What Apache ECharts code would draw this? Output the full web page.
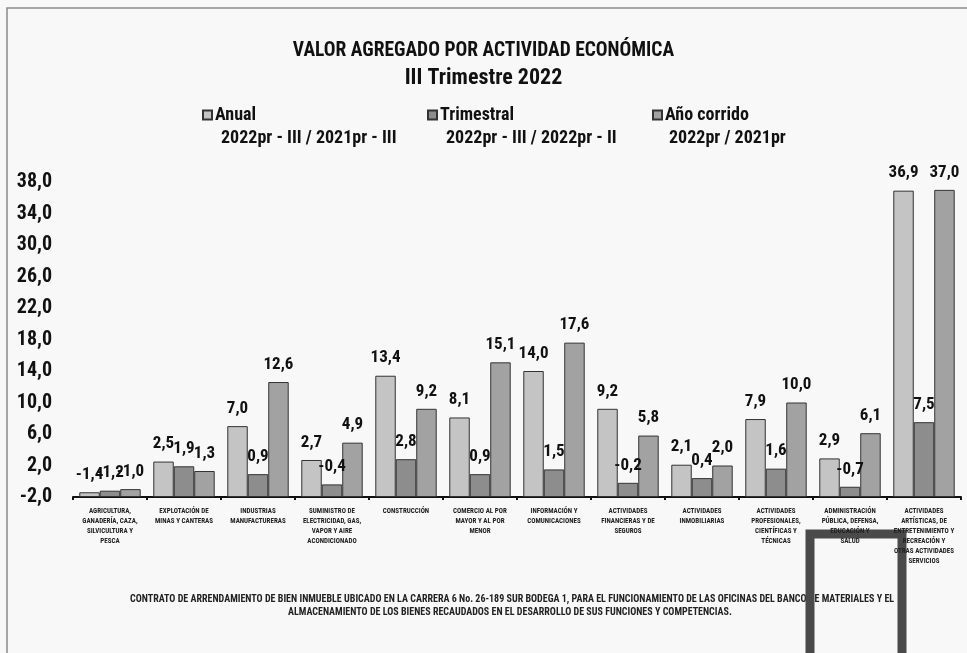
<!DOCTYPE html>
<html lang="es">
<head>
<meta charset="UTF-8">
<title>Valor agregado por actividad económica</title>
<script src="https://cdn.jsdelivr.net/npm/echarts@6/dist/echarts.min.js"></script>
<style>
  html, body { margin: 0; background: #fff; }
  #main { width: 967px; height: 653px; }
</style>
</head>
<body>
<div id="main"></div>
<script>
// ramas de actividad (eje x)
var actividades = [
  'AGRICULTURA,\nGANADERÍA, CAZA,\nSILVICULTURA Y\nPESCA',
  'EXPLOTACIÓN DE\nMINAS Y CANTERAS',
  'INDUSTRIAS\nMANUFACTURERAS',
  'SUMINISTRO DE\nELECTRICIDAD, GAS,\nVAPOR Y AIRE\nACONDICIONADO',
  'CONSTRUCCIÓN',
  'COMERCIO AL POR\nMAYOR Y AL POR\nMENOR',
  'INFORMACIÓN Y\nCOMUNICACIONES',
  'ACTIVIDADES\nFINANCIERAS Y DE\nSEGUROS',
  'ACTIVIDADES\nINMOBILIARIAS',
  'ACTIVIDADES\nPROFESIONALES,\nCIENTÍFICAS Y\nTÉCNICAS',
  'ADMINISTRACIÓN\nPÚBLICA, DEFENSA,\nEDUCACIÓN Y\nSALUD',
  'ACTIVIDADES\nARTÍSTICAS, DE\nENTRETENIMIENTO Y\nRECREACIÓN Y\nOTRAS ACTIVIDADES\nSERVICIOS'
];

// variaciones (%)
var anual      = [-1.4, 2.5, 7.0, 2.7, 13.4, 8.1, 14.0, 9.2, 2.1, 7.9, 2.9, 36.9];
var trimestral = [-1.2, 1.9, 0.9, -0.4, 2.8, 0.9, 1.5, -0.2, 0.4, 1.6, -0.7, 7.5];
var anoCorrido = [-1.0, 1.3, 12.6, 4.9, 9.2, 15.1, 17.6, 5.8, 2.0, 10.0, 6.1, 37.0];

var nombres  = ['Anual', 'Trimestral', 'Año corrido'];
var periodos = ['2022pr - III / 2021pr - III', '2022pr - III / 2022pr - II', '2022pr / 2021pr'];

var pie = [
  'CONTRATO DE ARRENDAMIENTO DE BIEN INMUEBLE UBICADO EN LA CARRERA 6 No. 26-189 SUR BODEGA 1, PARA EL FUNCIONAMIENTO DE LAS OFICINAS DEL BANCO DE MATERIALES Y EL',
  'ALMACENAMIENTO DE LOS BIENES RECAUDADOS EN EL DESARROLLO DE SUS FUNCIONES Y COMPETENCIAS.'
];

var fuente = '"Roboto Condensed", "Open Sans Condensed", sans-serif';
var colores = ['#c4c4c4', '#8d8d8d', '#a2a2a2'];

function coma(v) {
  return Number(v).toFixed(1).replace('.', ',');
}

var myChart = echarts.init(document.getElementById('main'));

// una leyenda por serie, para poder colocarlas como en el original
var leyendaX = [202, 427, 652];
var leyendas = nombres.map(function (n, i) {
  return {
    data: [n],
    left: leyendaX[i],
    top: 106,
    padding: 0,
    icon: 'rect',
    itemWidth: 9,
    itemHeight: 9,
    itemGap: 4,
    selectedMode: false,
    textStyle: { fontFamily: fuente, fontWeight: 'bold', fontSize: 18, color: '#111', padding: [0, 0, 0, -2] }
  };
});

var textosPeriodo = periodos.map(function (p, i) {
  return {
    type: 'text',
    left: [221, 446, 669][i],
    top: 129,
    style: { text: p, fontFamily: fuente, fontWeight: 'bold', fontSize: 18, fill: '#111' }
  };
});

var textosPie = pie.map(function (t, i) {
  return {
    type: 'text',
    left: [130, 288][i],
    top: 594 + i * 13,
    style: { text: t, fontFamily: fuente, fontWeight: 'bold', fontSize: 10, fill: '#222' }
  };
});

function serie(i, datos) {
  return {
    name: nombres[i],
    type: 'bar',
    data: datos,
    barGap: '0%',
    barCategoryGap: '17%',
    itemStyle: { color: colores[i], borderColor: '#333', borderWidth: 1 },
    label: {
      show: true,
      position: 'top',
      distance: 9,
      formatter: function (p) { return coma(p.value); },
      fontFamily: fuente,
      fontWeight: 'bold',
      fontSize: 17,
      color: '#111'
    }
  };
}

var option = {
  backgroundColor: '#f8f8f8',
  animation: false,
  title: {
    text: 'VALOR AGREGADO POR ACTIVIDAD ECONÓMICA',
    subtext: 'III Trimestre 2022',
    left: 'center',
    top: 36,
    itemGap: 6,
    textStyle: { fontFamily: fuente, fontWeight: 'bold', fontSize: 19.5, color: '#111' },
    subtextStyle: { fontFamily: fuente, fontWeight: 'bold', fontSize: 22, color: '#111' }
  },
  legend: leyendas,
  grid: { left: 73, right: 6, top: 182, bottom: 156 },
  xAxis: {
    type: 'category',
    data: actividades,
    axisLine: { onZero: false, lineStyle: { color: '#111', width: 2 } },
    axisTick: { show: true, length: 3, lineStyle: { color: '#111', width: 2 } },
    axisLabel: {
      interval: 0,
      margin: 9,
      fontFamily: fuente,
      fontWeight: 'bold',
      fontSize: 7,
      lineHeight: 10,
      color: '#222'
    }
  },
  yAxis: {
    type: 'value',
    min: -2,
    max: 38,
    interval: 4,
    startValue: -2,
    splitLine: { show: false },
    axisLine: { show: false },
    axisTick: { show: false },
    axisLabel: {
      margin: 21,
      formatter: coma,
      fontFamily: fuente,
      fontWeight: 'bold',
      fontSize: 20,
      color: '#111'
    }
  },
  series: [serie(0, anual), serie(1, trimestral), serie(2, anoCorrido)],
  graphic: textosPeriodo.concat(textosPie).concat([
    // marco del documento
    {
      type: 'rect',
      shape: { x: 7, y: 8, width: 1000, height: 700 },
      style: { fill: 'none', stroke: '#8a8a8a', lineWidth: 1.5 },
      silent: true
    },
    // recuadro oscuro sobre la foto
    {
      type: 'rect',
      shape: { x: 810, y: 534, width: 92, height: 140 },
      style: { fill: 'none', stroke: '#4a4a4a', lineWidth: 9 },
      silent: true
    }
  ])
};

myChart.setOption(option);
</script>
</body>
</html>
